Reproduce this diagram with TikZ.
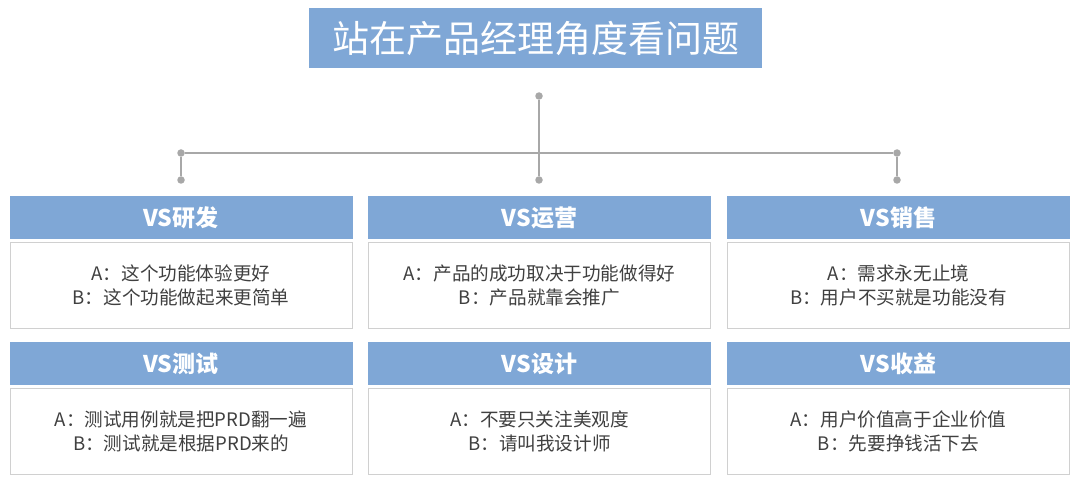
\documentclass[tikz,border=0pt]{standalone}
\usepackage{fontspec}
\newfontfamily\cjk{Noto Sans CJK SC}
\usetikzlibrary{positioning}
\definecolor{headblue}{HTML}{7FA7D6}
\definecolor{linegray}{HTML}{A8A8A8}
\definecolor{boxgray}{HTML}{D0D0D0}
\definecolor{textgray}{HTML}{404040}
\tikzset{
  titlebox/.style={fill=headblue, text=white, minimum width=453pt, minimum height=60pt,
    inner sep=0pt, font=\cjk\fontsize{37}{40}\selectfont},
  headbox/.style={fill=headblue, text=white, minimum width=343pt, minimum height=43pt,
    inner sep=0pt, font=\cjk\bfseries\fontsize{23}{26}\selectfont},
  bodybox/.style={draw=boxgray, line width=0.8pt, fill=white, minimum width=342pt,
    minimum height=86pt, inner sep=0pt, align=center, text=textgray,
    font=\cjk\fontsize{18.6}{24.5}\selectfont},
  conn/.style={draw=linegray, line width=1.6pt},
  knob/.style={circle, fill=linegray, minimum size=7.5pt, inner sep=0pt},
}

\begin{document}
\begin{tikzpicture}[x=1pt, y=-1pt]
			%%%%% START %%%%%
			\fill[white] (0,0) rectangle (1080,484);
			\useasboundingbox (0,0) rectangle (1080,484);
			
			\node[titlebox] (title) at (535.5,38) {站在产品经理角度看问题};
			
			% connector tree
			\node[knob] (top) at (539,96) {};
			\node[knob] (hl) at (181,153) {};
			\node[knob] (hr) at (897,153) {};
			\coordinate (hm) at (539,153);
			\node[knob] (d1) at (181,180) {};
			\node[knob] (d2) at (539,180) {};
			\node[knob] (d3) at (897,180) {};
			\draw[conn] (top) -- (hm) -- (d2);
			\draw[conn] (hl) -- (hr);
			\draw[conn] (hl) -- (d1);
			\draw[conn] (hr) -- (d3);
			
			% first row
			\node[headbox] (dev) at (181,217.5) {VS研发};
			\node[bodybox, below=3pt of dev] (devtxt) {A：这个功能体验更好\\B：这个功能做起来更简单};
			\node[headbox] (ops) at (539.5,217.5) {VS运营};
			\node[bodybox, below=3pt of ops] (opstxt) {A：产品的成功取决于功能做得好\\B：产品就靠会推广};
			\node[headbox] (sales) at (898.5,217.5) {VS销售};
			\node[bodybox, below=3pt of sales] (salestxt) {A：需求永无止境\\B：用户不买就是功能没有};
			
			% second row
			\node[headbox] (qa) at (181,363.5) {VS测试};
			\node[bodybox, below=3pt of qa] (qatxt) {A：测试用例就是把PRD翻一遍\\B：测试就是根据PRD来的};
			\node[headbox] (design) at (539.5,363.5) {VS设计};
			\node[bodybox, below=3pt of design] (designtxt) {A：不要只关注美观度\\B：请叫我设计师};
			\node[headbox] (rev) at (898.5,363.5) {VS收益};
			\node[bodybox, below=3pt of rev] (revtxt) {A：用户价值高于企业价值\\B：先要挣钱活下去};
			
			%%%%% END %%%%%
\end{tikzpicture}
\end{document}
